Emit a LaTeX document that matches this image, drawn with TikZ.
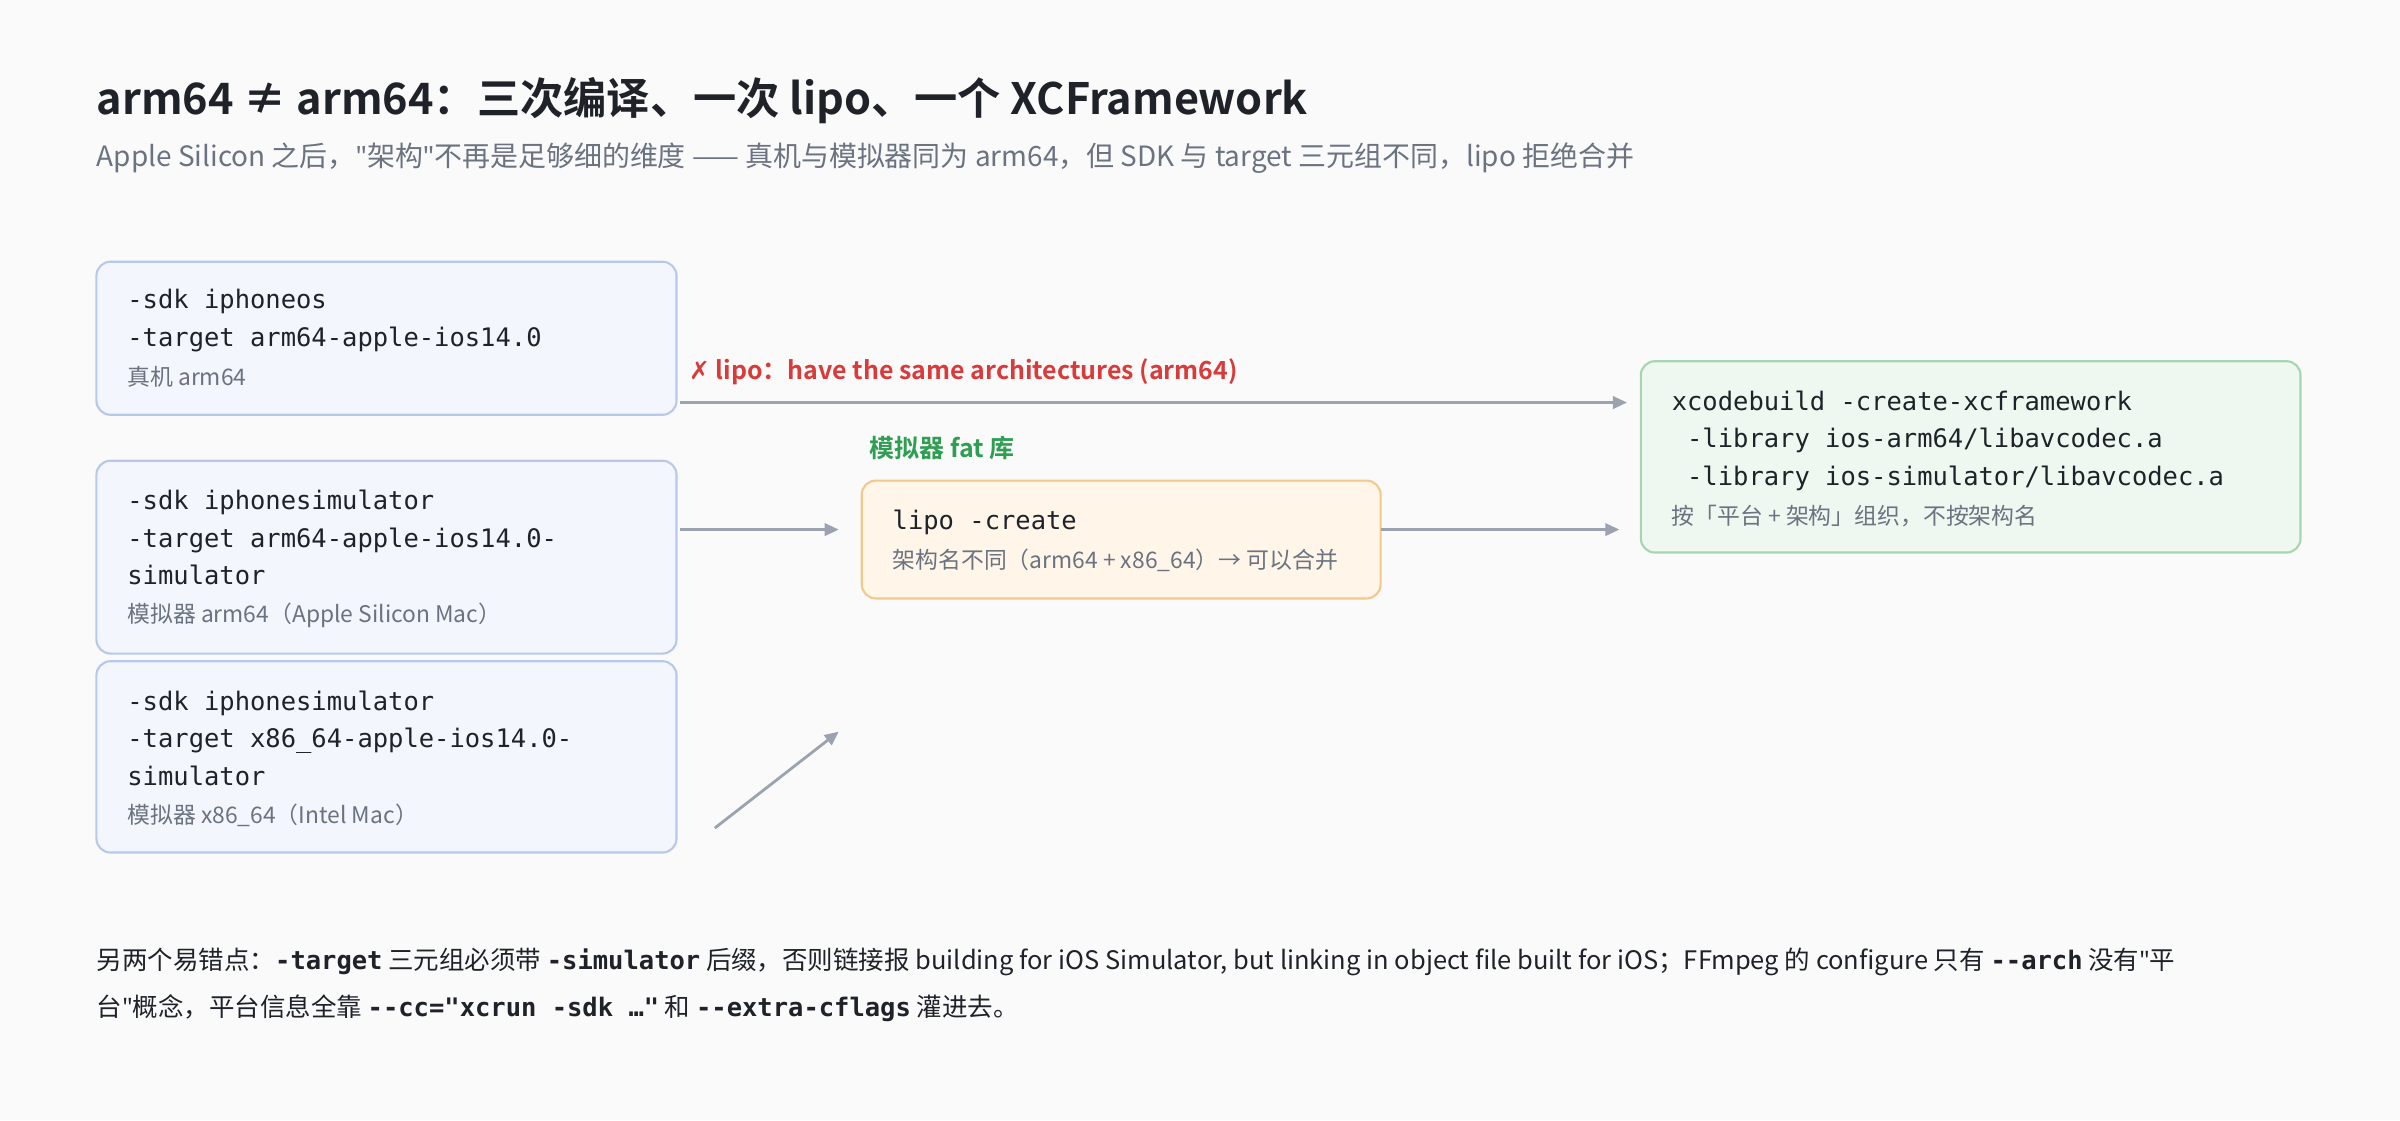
\documentclass[tikz,border=0pt]{standalone}
\usepackage{fontspec}
\setmainfont{Noto Sans CJK SC}[BoldFont={* Bold}]
\setmonofont{DejaVu Sans Mono}
\newfontfamily\symfont{DejaVu Sans}
\newfontfamily\quotefont{Noto Sans}
\newcommand{\sq}{{\quotefont\char"22}}
\usetikzlibrary{positioning, arrows.meta}
\definecolor{bgc}{HTML}{FAFAFA}
\definecolor{inkc}{HTML}{1F2329}
\definecolor{subc}{HTML}{6B7280}
\definecolor{arrc}{HTML}{9AA3AF}
\definecolor{bluef}{HTML}{F3F6FC}
\definecolor{blued}{HTML}{B8C8EA}
\definecolor{orf}{HTML}{FFF6E9}
\definecolor{ord}{HTML}{F3C98B}
\definecolor{grf}{HTML}{EEF7F0}
\definecolor{grd}{HTML}{A5D6B0}
\definecolor{redc}{HTML}{D93B3B}
\definecolor{grc}{HTML}{2E9E52}
\tikzset{
  box/.style={draw, line width=1.2pt, rounded corners=8pt},
  code/.style={anchor=north west, align=left, inner sep=0pt, font=\fontsize{14.5}{21.3}\selectfont\ttfamily, text=inkc},
  note/.style={anchor=west, inner sep=0pt, font=\fontsize{13}{15}\selectfont, text=subc},
  flow/.style={draw=arrc, line width=1.6pt, -{Triangle[length=8pt,width=7pt]}},
}
\begin{document}
\begin{tikzpicture}[x=0.03061cm, y=-0.03061cm]
  \fill[bgc] (0,0) rectangle (1568,732);
  % heading
  \node[anchor=west, inner sep=0pt, font=\fontsize{24.6}{28}\selectfont\bfseries, text=inkc] (title) at (63,66) {arm64 ≠ arm64：三次编译、一次 lipo、一个 XCFramework};
  \node[anchor=west, inner sep=0pt, font=\fontsize{15.9}{18}\selectfont, text=subc] (sub) at (63,103) {Apple Silicon 之后，\sq 架构\sq 不再是足够细的维度 —— 真机与模拟器同为 arm64，但 SDK 与 target 三元组不同，lipo 拒绝合并};
  % build boxes
  \draw[box, draw=blued, fill=bluef] (63,171) rectangle (442,271);
  \draw[box, draw=blued, fill=bluef] (63,301) rectangle (442,427);
  \draw[box, draw=blued, fill=bluef] (63,432) rectangle (442,557);
  \node[code] (dev) at (83,189) {-sdk iphoneos\\-target arm64-apple-ios14.0};
  \node[note] (devn) at (83,246) {真机 arm64};
  \node[code] (sima) at (83,320) {-sdk iphonesimulator\\-target arm64-apple-ios14.0-\\simulator};
  \node[note] (siman) at (83,402) {模拟器 arm64（Apple Silicon Mac）};
  \node[code] (simx) at (83,451) {-sdk iphonesimulator\\-target x86\_64-apple-ios14.0-\\simulator};
  \node[note] (simxn) at (83,533) {模拟器 x86\_64（Intel Mac）};
  % lipo box
  \draw[box, draw=ord, fill=orf] (563,314) rectangle (902,391);
  \node[code] (lipo) at (583,333) {lipo -create};
  \node[note] (lipon) at (583,366) {架构名不同（arm64 + x86\_64）→ 可以合并};
  \node[anchor=west, inner sep=0pt, font=\fontsize{14.2}{16}\selectfont\bfseries, text=grc] (fat) at (568,293) {模拟器 fat 库};
  % xcframework box
  \draw[box, draw=grd, fill=grf] (1072,236) rectangle (1503,361);
  \node[code] (xcf) at (1092,255) {xcodebuild -create-xcframework\\\ -library ios-arm64/libavcodec.a\\\ -library ios-simulator/libavcodec.a};
  \node[note] (xcfn) at (1092,337) {按「平台 + 架构」组织，不按架构名};
  % connectors
  \coordinate (d1) at (444,263); \coordinate (d2) at (1063,263);
  \coordinate (a1) at (444,346); \coordinate (a2) at (548,346);
  \coordinate (x1) at (467,541); \coordinate (x2) at (548,478);
  \coordinate (l1) at (902,346); \coordinate (l2) at (1058,346);
  \draw[flow] (d1) -- (d2);
  \draw[flow] (a1) -- (a2);
  \draw[flow] (x1) -- (x2);
  \draw[flow] (l1) -- (l2);
  \node[anchor=west, inner sep=0pt, font=\fontsize{14.2}{16}\selectfont\bfseries, text=redc] (err) at (450,243) {{\symfont ✗} lipo：have the same architectures (arm64)};
  % footer
  \node[anchor=north west, align=left, inner sep=0pt, font=\fontsize{14.5}{27}\selectfont, text=inkc] (foot) at (63,619)
    {另两个易错点：\textbf{\ttfamily -target} 三元组必须带 \textbf{\ttfamily -simulator} 后缀，否则链接报 building for iOS Simulator, but linking in object file built for iOS；FFmpeg 的 configure 只有 \textbf{\ttfamily -{}-arch} 没有\sq 平\\台\sq 概念，平台信息全靠 \textbf{\ttfamily -{}-cc="xcrun -sdk …"} 和 \textbf{\ttfamily -{}-extra-cflags} 灌进去。};
\end{tikzpicture}
\end{document}
